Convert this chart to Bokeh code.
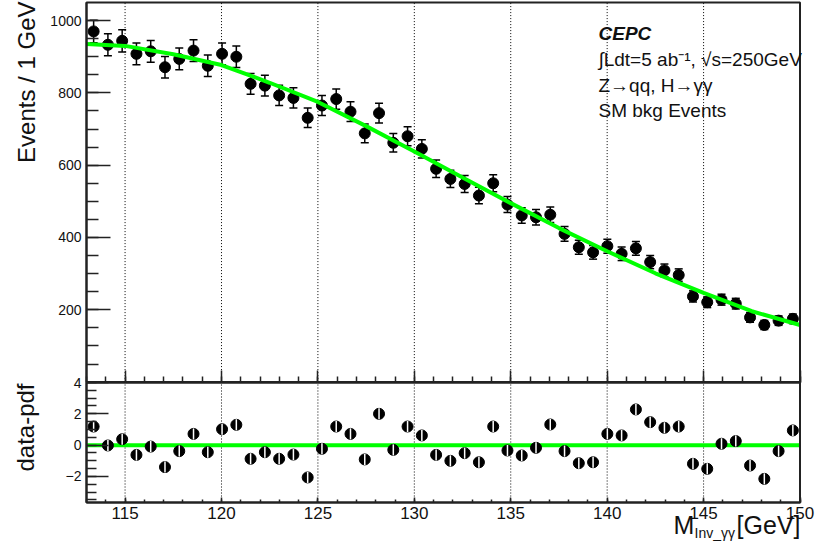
import numpy as np
from bokeh.plotting import figure
from bokeh.models import (Range1d, FixedTicker, ColumnDataSource, Whisker, TeeHead,
                          Label, LinearAxis)
from bokeh.embed import file_html
from bokeh.resources import INLINE

# ---------------- data ----------------
mass = [113.37, 114.11, 114.85, 115.59, 116.33, 117.07, 117.81, 118.55, 119.29, 120.03,
        120.77, 121.51, 122.25, 122.99, 123.73, 124.47, 125.21, 125.95, 126.69, 127.43,
        128.17, 128.91, 129.65, 130.39, 131.13, 131.87, 132.61, 133.35, 134.09, 134.83,
        135.57, 136.31, 137.05, 137.79, 138.53, 139.27, 140.01, 140.75, 141.49, 142.23,
        142.97, 143.71, 144.45, 145.19, 145.93, 146.67, 147.41, 148.15, 148.89, 149.63]
events = [970, 933, 944, 908, 915, 871, 894, 917, 875, 908,
          900, 825, 820, 793, 786, 731, 765, 783, 748, 688,
          744, 662, 680, 645, 590, 562, 548, 516, 550, 491,
          461, 456, 463, 410, 373, 359, 376, 355, 370, 332,
          309, 296, 237, 221, 228, 217, 179, 158, 170, 175]
errors = [31.1, 30.5, 30.7, 30.1, 30.2, 29.5, 29.9, 30.3, 29.6, 30.1,
          30.0, 28.7, 28.6, 28.2, 28.0, 27.0, 27.7, 28.0, 27.3, 26.2,
          27.3, 25.7, 26.1, 25.4, 24.3, 23.7, 23.4, 22.7, 23.5, 22.2,
          21.5, 21.4, 21.5, 20.2, 19.3, 18.9, 19.4, 18.8, 19.2, 18.2,
          17.6, 17.2, 15.4, 14.9, 15.1, 14.7, 13.4, 12.6, 13.0, 13.2]
pulls = [1.19, -0.02, 0.38, -0.62, -0.09, -1.40, -0.38, 0.72, -0.45, 1.02,
         1.30, -0.87, -0.45, -0.87, -0.60, -2.06, -0.23, 1.19, 0.72, -0.91,
         2.00, -0.30, 1.19, 0.62, -0.62, -1.00, -0.51, -1.09, 1.19, -0.34,
         -0.66, -0.17, 1.32, -0.38, -1.15, -1.09, 0.72, 0.62, 2.28, 1.47,
         1.11, 1.19, -1.19, -1.51, 0.09, 0.26, -1.30, -2.15, -0.38, 0.94]
fit_mass = [113, 115, 117.5, 120, 122.5, 125, 127.5, 130, 132.5, 135,
            137.5, 140, 142.5, 145, 147.5, 150]
fit_events = [935, 930, 907, 877, 828, 775, 708, 638, 566, 495,
              426, 362, 301, 247, 196, 158]

x_major = [115, 120, 125, 130, 135, 140, 145, 150]
x_minor = list(range(113, 151))
x_grid = [115, 120, 125, 130, 135, 140, 145]
y_major = [200, 400, 600, 800, 1000]
y_minor = list(range(50, 1050, 50))
pull_major = [-2, 0, 2, 4]
pull_minor = [-3.5, -3, -2.5, -2, -1.5, -1, -0.5, 0, 0.5, 1, 1.5, 2, 2.5, 3, 3.5, 4]

# panel limits (data units)
X_LO, X_HI = 113, 150
TOP_LO, TOP_HI = 0, 1050
PULL_LO, PULL_HI = -3.66, 4
PULL_REF = 0

# ---------------- page geometry (pixels) ----------------
W, H = 827, 549
PX_L, PX_R = 86, 799.5
PX_T1, PX_B1 = 2, 381.6
PX_T2, PX_B2 = 382, 502

sx = (PX_R - PX_L) / (X_HI - X_LO)
s1 = (PX_B1 - PX_T1) / (TOP_HI - TOP_LO)
s2 = (PX_B2 - PX_T2) / (PULL_HI - PULL_LO)

FONT = "Liberation Sans"
TXT = "#111111"
AX = "#222222"
GREEN = "#00ff00"

p = figure(width=W, height=H,
           x_range=Range1d(X_LO - PX_L / sx, X_HI + (W - PX_R) / sx),
           y_range=Range1d(TOP_LO - (H - PX_B1) / s1, TOP_HI + PX_T1 / s1),
           x_axis_location=None, y_axis_location=None,
           output_backend="svg", toolbar_location=None,
           min_border=0, min_border_left=0, min_border_right=0,
           min_border_top=0, min_border_bottom=0)
p.extra_y_ranges = {"pull": Range1d(PULL_LO - (H - PX_B2) / s2, PULL_HI + PX_T2 / s2)}
p.outline_line_color = None
p.background_fill_color = "white"
p.border_fill_color = "white"
p.grid.visible = False


def make_axis(major, minor, tin, tmin, size, standoff, **kw):
    ax = LinearAxis(ticker=FixedTicker(ticks=major, minor_ticks=minor), **kw)
    ax.major_tick_in = tin
    ax.major_tick_out = 0
    ax.minor_tick_in = tmin
    ax.minor_tick_out = 0
    ax.axis_line_color = AX
    ax.axis_line_width = 2
    ax.major_tick_line_color = AX
    ax.major_tick_line_width = 1.5
    ax.minor_tick_line_color = AX
    ax.minor_tick_line_width = 1.5
    ax.major_label_text_font = FONT
    ax.major_label_text_font_size = size
    ax.major_label_text_color = TXT
    ax.major_label_standoff = standoff
    return ax


# ---------------- dotted vertical grid lines ----------------
n = len(x_grid)
p.segment(x0=x_grid, y0=[TOP_LO] * n, x1=x_grid, y1=[TOP_HI] * n,
          line_color="black", line_width=1, line_dash="1 2")
p.segment(x0=x_grid, y0=[PULL_LO] * n, x1=x_grid, y1=[PULL_HI] * n,
          line_color="black", line_width=1, line_dash="1 2", y_range_name="pull")

# ---------------- top panel: data + fit ----------------
src = ColumnDataSource(dict(x=mass, y=events,
                            upper=[v + e for v, e in zip(events, errors)],
                            lower=[v - e for v, e in zip(events, errors)]))
p.add_layout(Whisker(source=src, base="x", upper="upper", lower="lower",
                     line_color="black", line_width=1.5,
                     upper_head=TeeHead(size=8, line_color="black", line_width=1.5),
                     lower_head=TeeHead(size=8, line_color="black", line_width=1.5)))
p.scatter("x", "y", source=src, marker="circle", size=11,
          fill_color="black", line_color="black")
p.line(fit_mass, fit_events, line_color=GREEN, line_width=4)

# ---------------- bottom panel: pulls ----------------
p.segment(x0=[X_LO], y0=[PULL_REF], x1=[X_HI], y1=[PULL_REF],
          line_color=GREEN, line_width=4, y_range_name="pull")
p.scatter(mass, pulls, marker="circle", size=11, fill_color="black",
          line_color="black", y_range_name="pull")
p.scatter(mass, pulls, marker="dash", angle=np.pi / 2, size=11,
          line_color="white", line_width=1.5, y_range_name="pull")

# ---------------- panel frames ----------------
p.quad(left=[X_LO], right=[X_HI], bottom=[TOP_LO], top=[TOP_HI],
       fill_color=None, line_color=AX, line_width=2)
p.quad(left=[X_LO], right=[X_HI], bottom=[PULL_LO], top=[PULL_HI],
       fill_color=None, line_color=AX, line_width=2, y_range_name="pull")

# ---------------- axes ----------------
p.add_layout(make_axis(y_major, y_minor, 24, 12, "14px", 5,
                       fixed_location=X_LO, bounds=(TOP_LO, TOP_HI)), "left")
top_x = make_axis(x_major, x_minor, 12, 6, "14px", 0,
                  fixed_location=TOP_LO, bounds=(X_LO, X_HI))
top_x.major_label_text_alpha = 0
p.add_layout(top_x, "below")
p.add_layout(make_axis(pull_major, pull_minor, 22, 10, "14px", 5,
                       fixed_location=X_LO, bounds=(PULL_LO, PULL_HI),
                       y_range_name="pull"), "left")
p.add_layout(make_axis(x_major, x_minor, 5, 3, "17px", 4,
                       fixed_location=PULL_LO, bounds=(X_LO, X_HI),
                       y_range_name="pull"), "below")


# ---------------- texts ----------------
def label(text, x, y, size, align="left", angle=0.0, style="normal"):
    p.add_layout(Label(x=x, y=H - y, x_units="screen", y_units="screen", text=text,
                       angle=angle, text_align=align, text_baseline="alphabetic",
                       text_font=FONT, text_font_size=size, text_font_style=style,
                       text_color=TXT))


label("Events / 1 GeV", 26, 1, "24px", align="right", angle=np.pi / 2)
label("data-pdf", 25, 383, "24px", align="right", angle=np.pi / 2)

label("CEPC", 598, 33, "19px", style="bold italic")
label("\u222bLdt=5 ab\u207b\u00b9, \u221as=250GeV", 598, 59, "19px")
label("Z\u2192qq, H\u2192\u03b3\u03b3", 598, 85, "19px")
label("SM bkg Events", 598, 110, "19px")

label("M", 673, 524, "25px")
label("Inv_\u03b3\u03b3", 694, 532, "14px")
label("[GeV]", 800, 524, "25px", align="right")

open("out.html", "w").write(file_html(p, INLINE))
